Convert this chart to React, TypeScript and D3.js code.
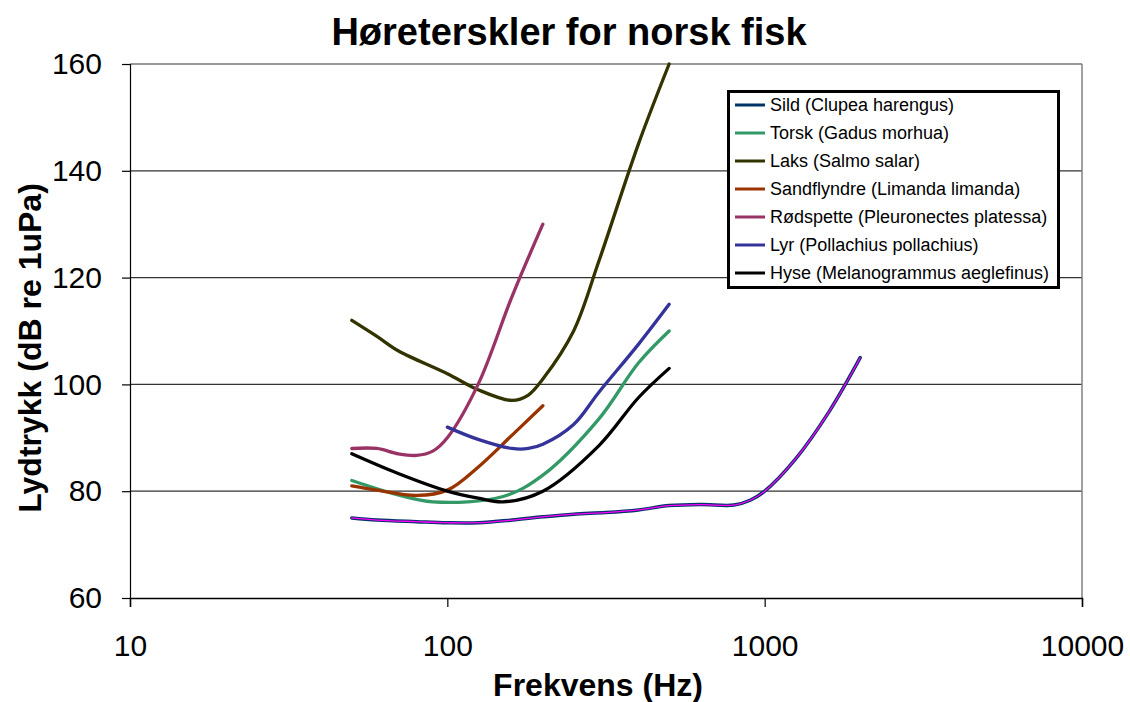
import { useEffect, useRef } from 'react'
import * as d3 from 'd3'

const title = 'Høreterskler for norsk fisk'
const xTitle = 'Frekvens (Hz)'
const yTitle = 'Lydtrykk (dB re 1uPa)'

const xTicks = [10, 100, 1000, 10000]
const yTicks = [60, 80, 100, 120, 140, 160]

// hearing thresholds, freq (Hz) / level (dB re 1uPa)
const sildFreq = [50, 60, 80, 100, 125, 160, 200, 250, 315, 400, 500, 630, 800, 900, 1000, 1250, 1600, 2000]
const sildDb = [75, 74.6, 74.3, 74.1, 74.1, 74.6, 75.2, 75.7, 76, 76.5, 77.3, 77.5, 77.4, 78.3, 80, 86, 95, 105]

const torskFreq = [50, 70, 90, 150, 200, 300, 400, 500]
const torskDb = [82, 79.3, 78, 79, 83, 93.5, 104, 110]

const laksFreq = [50, 60, 70, 100, 125, 160, 180, 200, 250, 300, 400, 500]
const laksDb = [112, 109, 106.3, 102, 99, 97, 98, 101, 110, 123, 145, 160]

const sandFreq = [50, 60, 80, 100, 125, 160, 200]
const sandDb = [81, 80.2, 79.2, 80.2, 84.5, 90.5, 96]

const rodFreq = [50, 60, 70, 80, 90, 100, 125, 160, 200]
const rodDb = [88, 88, 87, 86.7, 87.5, 90, 100, 116.5, 130]

const lyrFreq = [100, 125, 160, 180, 200, 250, 300, 400, 500]
const lyrDb = [92, 89.7, 88, 88, 88.8, 92.5, 98.5, 107.5, 115]

const hyseFreq = [50, 70, 100, 125, 150, 200, 300, 400, 500]
const hyseDb = [87, 83.3, 80, 78.7, 78, 80, 88.5, 97.5, 103]

const seriesNames = [
  'Sild (Clupea harengus)',
  'Torsk (Gadus morhua)',
  'Laks (Salmo salar)',
  'Sandflyndre (Limanda limanda)',
  'Rødspette (Pleuronectes platessa)',
  'Lyr (Pollachius pollachius)',
  'Hyse (Melanogrammus aeglefinus)',
]
const seriesColors = ['#003366', '#339966', '#333300', '#993300', '#993366', '#333399', '#000000']
const seriesFreqs = [sildFreq, torskFreq, laksFreq, sandFreq, rodFreq, lyrFreq, hyseFreq]
const seriesDbs = [sildDb, torskDb, laksDb, sandDb, rodDb, lyrDb, hyseDb]

const FONT = '"Liberation Sans", Arial, sans-serif'

export default function App() {
  const svgRef = useRef<SVGSVGElement>(null)

  useEffect(() => {
    if (!svgRef.current) return
    const width = 1130
    const height = 702
    const plot = { left: 130, right: 1082, top: 64, bottom: 598 }

    const svg = d3.select(svgRef.current)
    svg.selectAll('*').remove()
    svg.attr('width', width).attr('height', height)

    const x = d3.scaleLog().domain([10, 10000]).range([plot.left, plot.right])
    const y = d3.scaleLinear().domain([60, 160]).range([plot.bottom, plot.top])

    svg.append('rect').attr('width', width).attr('height', height).attr('fill', '#fff')

    // grid
    svg.append('g')
      .selectAll('line')
      .data(yTicks.slice(1))
      .join('line')
      .attr('x1', plot.left).attr('x2', plot.right)
      .attr('y1', d => y(d)).attr('y2', d => y(d))
      .attr('stroke', '#333')
      .attr('stroke-width', 1.2)

    // right border
    svg.append('line')
      .attr('x1', plot.right).attr('x2', plot.right)
      .attr('y1', plot.top).attr('y2', plot.bottom)
      .attr('stroke', '#808080').attr('stroke-width', 1.5)

    // Y axis
    svg.append('g')
      .attr('transform', `translate(${plot.left},0)`)
      .call(d3.axisLeft(y).tickValues(yTicks).tickSize(8).tickPadding(20).tickFormat(d => String(d)))
      .call(sel => sel.select('.domain').attr('stroke', '#000').attr('stroke-width', 1.2))
      .call(sel => sel.selectAll('.tick line').attr('stroke', '#000').attr('stroke-width', 1.2))
      .call(sel => sel.selectAll('text').attr('fill', '#000').attr('font-size', 30).attr('font-family', FONT))

    // X axis
    svg.append('g')
      .attr('transform', `translate(0,${plot.bottom})`)
      .call(d3.axisBottom(x).tickValues(xTicks).tickSize(9).tickPadding(28).tickFormat(d => String(d)))
      .call(sel => sel.select('.domain').attr('stroke', '#000').attr('stroke-width', 1.5))
      .call(sel => sel.selectAll('.tick line').attr('stroke', '#000').attr('stroke-width', 1.2))
      .call(sel => sel.selectAll('text').attr('fill', '#000').attr('font-size', 30).attr('font-family', FONT))

    // series
    const line = d3.line<[number, number]>()
      .x(d => x(d[0]))
      .y(d => y(d[1]))
      .curve(d3.curveCatmullRom.alpha(0.5))

    const lines = svg.append('g').attr('fill', 'none').attr('stroke-linecap', 'round').attr('stroke-linejoin', 'round')
    seriesNames.forEach((_, i) => {
      const pts = seriesFreqs[i].map((f, j) => [f, seriesDbs[i][j]] as [number, number])
      lines.append('path')
        .attr('d', line(pts))
        .attr('stroke', seriesColors[i])
        .attr('stroke-width', i === 0 ? 3.5 : 3.3)
      if (i === 0) {
        // magenta trace drawn over the Sild curve
        lines.append('path')
          .attr('d', line(pts))
          .attr('stroke', '#ff00ff')
          .attr('stroke-width', 1.3)
      }
    })

    // legend
    const lg = svg.append('g')
    lg.append('rect')
      .attr('x', 728.5).attr('y', 91.5)
      .attr('width', 330).attr('height', 196)
      .attr('fill', '#fff').attr('stroke', '#000').attr('stroke-width', 3)
    seriesNames.forEach((name, i) => {
      const ly = 105 + i * 28
      lg.append('line')
        .attr('x1', 735).attr('x2', 765)
        .attr('y1', ly).attr('y2', ly)
        .attr('stroke', seriesColors[i]).attr('stroke-width', 3)
      lg.append('text')
        .attr('x', 770).attr('y', ly)
        .attr('dy', '0.35em')
        .attr('font-size', 18).attr('font-family', FONT)
        .text(name)
    })

    // titles
    svg.append('text')
      .attr('x', 569).attr('y', 32)
      .attr('dy', '0.35em')
      .attr('text-anchor', 'middle')
      .attr('font-size', 38).attr('font-weight', 'bold').attr('font-family', FONT)
      .text(title)

    svg.append('text')
      .attr('x', 598).attr('y', 685)
      .attr('dy', '0.35em')
      .attr('text-anchor', 'middle')
      .attr('font-size', 32).attr('font-weight', 'bold').attr('font-family', FONT)
      .text(xTitle)

    svg.append('text')
      .attr('transform', 'translate(30,348) rotate(-90)')
      .attr('dy', '0.35em')
      .attr('text-anchor', 'middle')
      .attr('font-size', 32).attr('font-weight', 'bold').attr('font-family', FONT)
      .text(yTitle)
  }, [])

  return (
    <div style={{ position: 'absolute', left: 0, top: 0 }}>
      <svg ref={svgRef} />
    </div>
  )
}
